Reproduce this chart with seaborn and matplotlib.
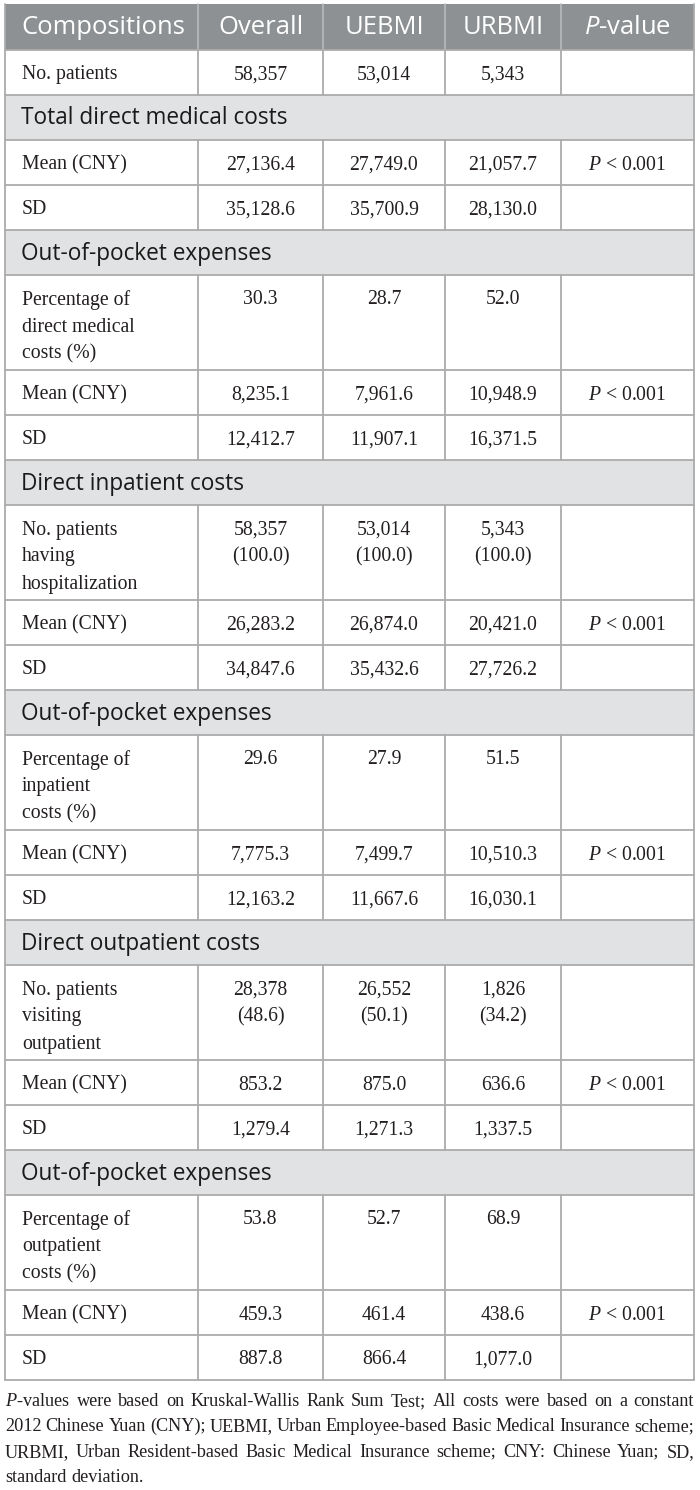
"""
Direct medical costs by insurance scheme - table figure.
Draws the cost composition table with matplotlib patches on a seaborn theme.
"""

import matplotlib
matplotlib.use("Agg")
import matplotlib.pyplot as plt
import matplotlib.patches as mpatches
import seaborn as sns

# Table content
columns = ["Compositions", "Overall", "UEBMI", "URBMI", r"$\mathsf{P}$-value"]

row_labels = [
    "No. patients",
    "Total direct medical costs",
    "Mean (CNY)", "SD",
    "Out-of-pocket expenses",
    "Percentage of\ndirect medical\ncosts (%)", "Mean (CNY)", "SD",
    "Direct inpatient costs",
    "No. patients\nhaving\nhospitalization", "Mean (CNY)", "SD",
    "Out-of-pocket expenses",
    "Percentage of\ninpatient\ncosts (%)", "Mean (CNY)", "SD",
    "Direct outpatient costs",
    "No. patients\nvisiting\noutpatient", "Mean (CNY)", "SD",
    "Out-of-pocket expenses",
    "Percentage of\noutpatient\ncosts (%)", "Mean (CNY)", "SD",
]

# None marks a section heading row
overall = [
    "58,357", None, "27,136.4", "35,128.6",
    None, "30.3", "8,235.1", "12,412.7",
    None, "58,357\n(100.0)", "26,283.2", "34,847.6",
    None, "29.6", "7,775.3", "12,163.2",
    None, "28,378\n(48.6)", "853.2", "1,279.4",
    None, "53.8", "459.3", "887.8",
]
uebmi = [
    "53,014", None, "27,749.0", "35,700.9",
    None, "28.7", "7,961.6", "11,907.1",
    None, "53,014\n(100.0)", "26,874.0", "35,432.6",
    None, "27.9", "7,499.7", "11,667.6",
    None, "26,552\n(50.1)", "875.0", "1,271.3",
    None, "52.7", "461.4", "866.4",
]
urbmi = [
    "5,343", None, "21,057.7", "28,130.0",
    None, "52.0", "10,948.9", "16,371.5",
    None, "5,343\n(100.0)", "20,421.0", "27,726.2",
    None, "51.5", "10,510.3", "16,030.1",
    None, "1,826\n(34.2)", "636.6", "1,337.5",
    None, "68.9", "438.6", "1,077.0",
]
PV = r"$\mathit{P}$ < 0.001"
p_values = [
    "", None, PV, "",
    None, "", PV, "",
    None, "", PV, "",
    None, "", PV, "",
    None, "", PV, "",
    None, "", PV, "",
]

footnote_lines = [
    r"$\mathit{P}$-values were based on Kruskal-Wallis Rank Sum Test; All costs were based on a constant",
    "2012 Chinese Yuan (CNY); UEBMI, Urban Employee-based Basic Medical Insurance scheme;",
    "URBMI, Urban Resident-based Basic Medical Insurance scheme; CNY: Chinese Yuan; SD,",
    "standard deviation.",
]

# Layout (pixels)
W, H = 700, 1490
COL_EDGES = [5, 198, 323, 445, 561, 694]
TOP = 4
HEADER_H = 46
ROW_H = 45
SECTION_H = 45
LINE_STEP = 27
TALL_H = ROW_H + 2 * LINE_STEP - 4

HEADER_BG = "#8e9193"
SECTION_BG = "#e1e2e3"
GRID = "#ababab"
INK = "#231f20"

SERIF = "Liberation Serif"
SANS = "Open Sans"
BODY_PX = 19.8
HEAD_PX = 25.6
SECTION_PX = 22.6
NOTE_PX = 19.5
NOTE_STEP = 25.3


def px(size):
    return size * 72 / 100


def setup():
    sns.set_theme(style="white")
    plt.rcParams["mathtext.fontset"] = "custom"
    plt.rcParams["mathtext.it"] = "Liberation Serif:italic"
    plt.rcParams["mathtext.rm"] = "Liberation Serif"
    plt.rcParams["mathtext.sf"] = "Open Sans:italic"
    fig = plt.figure(figsize=(W / 100, H / 100), dpi=100)
    ax = fig.add_axes([0, 0, 1, 1])
    ax.set_xlim(0, W)
    ax.set_ylim(H, 0)
    ax.axis("off")
    return fig, ax


def cell_lines(ax, x, top, text, ha, family, size, color):
    for i, line in enumerate(text.split("\n")):
        ax.text(x, top + 29.5 + i * LINE_STEP, line, ha=ha, va="baseline",
                family=family, fontsize=px(size), color=color)


def draw_table(ax):
    left, right = COL_EDGES[0], COL_EDGES[-1]
    y = TOP
    # header
    ax.add_patch(mpatches.Rectangle((left, y), right - left, HEADER_H,
                                    facecolor=HEADER_BG, edgecolor="none"))
    for c, name in enumerate(columns):
        if c == 0:
            x, ha = left + 16, "left"
        else:
            x, ha = (COL_EDGES[c] + COL_EDGES[c + 1]) / 2, "center"
        ax.text(x, y + HEADER_H / 2 + 1, name, ha=ha, va="center", family=SANS,
                fontsize=px(HEAD_PX), color="white")
    for c in range(1, len(COL_EDGES) - 1):
        ax.plot([COL_EDGES[c]] * 2, [y, y + HEADER_H], color="#b8babc", lw=1.2)
    y += HEADER_H

    for i, label in enumerate(row_labels):
        if overall[i] is None:
            ax.add_patch(mpatches.Rectangle((left, y), right - left, SECTION_H,
                                            facecolor=SECTION_BG, edgecolor="none"))
            ax.text(left + 16, y + SECTION_H / 2 + 1, label, ha="left", va="center",
                    family=SANS, fontsize=px(SECTION_PX), color="#1a1a1a")
            h = SECTION_H
        else:
            h = TALL_H if "\n" in label else ROW_H
            cell_lines(ax, left + 17, y, label, "left", SERIF, BODY_PX, INK)
            values = [overall[i], uebmi[i], urbmi[i], p_values[i]]
            for c, val in enumerate(values, start=1):
                xc = (COL_EDGES[c] + COL_EDGES[c + 1]) / 2
                cell_lines(ax, xc, y, val, "center", SERIF, BODY_PX, INK)
            for c in range(1, len(COL_EDGES) - 1):
                ax.plot([COL_EDGES[c]] * 2, [y, y + h], color=GRID, lw=1.3)
        ax.plot([left, right], [y, y], color=GRID, lw=1.3)
        y += h
    ax.plot([left, right], [y, y], color=GRID, lw=1.3)
    ax.plot([left, left], [TOP, y], color=GRID, lw=1.3)
    ax.plot([right, right], [TOP, y], color=GRID, lw=1.3)
    return y


def measure(fig, ax, words, size):
    renderer = fig.canvas.get_renderer()
    inv = ax.transData.inverted()
    texts = [ax.text(0, 0, w, ha="left", va="baseline", family=SERIF,
                     fontsize=px(size), color=INK) for w in words]
    widths = []
    for t in texts:
        bb = t.get_window_extent(renderer)
        widths.append(inv.transform((bb.x1, 0))[0] - inv.transform((bb.x0, 0))[0])
    return texts, widths


def draw_footnote(fig, ax, y0):
    left, right = COL_EDGES[0], COL_EDGES[-1]
    avail = right - left
    # shrink the note font until every justified line keeps a minimal word gap
    size = NOTE_PX
    for line in footnote_lines[:-1]:
        words = line.split(" ")
        texts, widths = measure(fig, ax, words, NOTE_PX)
        for t in texts:
            t.remove()
        need = sum(widths) + 3.5 * (len(words) - 1)
        if need > avail:
            size = min(size, NOTE_PX * (avail - 3.5 * (len(words) - 1)) / sum(widths))

    for n, line in enumerate(footnote_lines):
        yb = y0 + 26 + n * NOTE_STEP
        words = line.split(" ")
        texts, widths = measure(fig, ax, words, size)
        if n < len(footnote_lines) - 1:
            gap = (avail - sum(widths)) / (len(words) - 1)
        else:
            gap = size * 0.25
        x = left
        for t, w in zip(texts, widths):
            t.set_x(x)
            t.set_y(yb)
            x += w + gap


def main():
    fig, ax = setup()
    bottom = draw_table(ax)
    draw_footnote(fig, ax, bottom)
    fig.savefig("out.png", dpi=100)
    plt.close(fig)


if __name__ == "__main__":
    main()
